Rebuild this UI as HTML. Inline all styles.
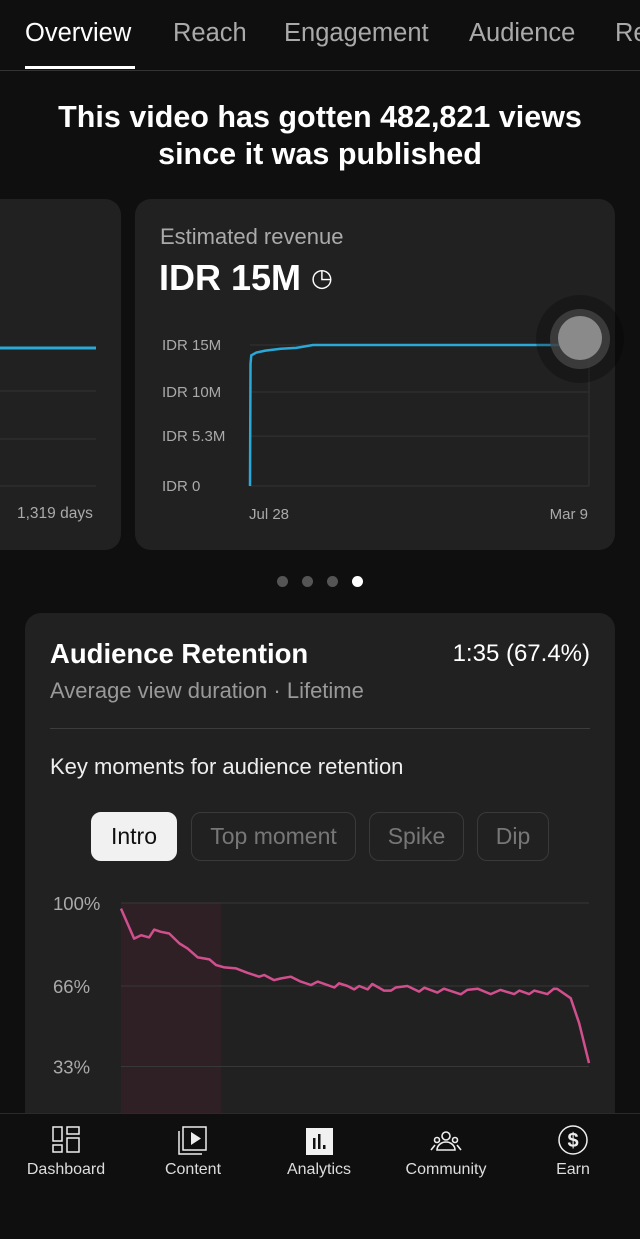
<!DOCTYPE html>
<html><head><meta charset="utf-8">
<style>
*{margin:0;padding:0;box-sizing:border-box}
body{width:640px;height:1239px;background:#0f0f0f;font-family:"Liberation Sans",sans-serif;color:#fff;position:relative;overflow:hidden}
.abs{position:absolute}
.tab{position:absolute;top:19px;font-size:25.5px;color:#aaa}
.card{position:absolute;background:#212121;border-radius:16px}
.lbl{font-size:15.5px;color:#aaa;position:absolute}
.chip{position:absolute;top:812px;height:49px;border-radius:10px;border:1px solid #3a3a3a;font-size:23px;color:#777;display:flex;align-items:center;justify-content:center}
.nav{position:absolute;top:1161px;font-size:16px;color:#ddd;text-align:center;width:120px}
</style></head><body>
<div class="tab" style="left:25px;color:#fff">Overview</div>
<div class="abs" style="left:25px;top:66px;width:110px;height:3px;background:#fff"></div>
<div class="tab" style="left:173px">Reach</div>
<div class="tab" style="left:284px">Engagement</div>
<div class="tab" style="left:469px">Audience</div>
<div class="tab" style="left:615px">Re</div>
<div class="abs" style="left:0;top:70px;width:640px;height:1px;background:#333"></div>
<div class="abs" style="left:0;top:99px;width:640px;text-align:center;font-size:30.5px;font-weight:bold;line-height:37px">This video has gotten 482,821 views<br>since it was published</div>

<div class="card" style="left:-30px;top:199px;width:151px;height:351px">
<svg class="abs" style="left:0;top:0" width="151" height="351">
<line x1="30" y1="192" x2="126" y2="192" stroke="#333"/>
<line x1="30" y1="240" x2="126" y2="240" stroke="#333"/>
<line x1="30" y1="287" x2="126" y2="287" stroke="#333"/>
<line x1="30" y1="149" x2="126" y2="149" stroke="#2aa8d8" stroke-width="3"/>
</svg>
<div class="lbl" style="left:47px;top:306px">1,319 days</div>
</div>

<div class="card" style="left:135px;top:199px;width:480px;height:351px">
<div class="abs" style="left:25px;top:25px;font-size:22px;color:#aaa">Estimated revenue</div>
<div class="abs" style="left:24px;top:58px;font-size:36px;font-weight:bold">IDR 15M <span style="font-size:25px;font-weight:normal;vertical-align:4px">◷</span></div>
</div>
<svg class="abs" style="left:0;top:0" width="640" height="560" id="rev"></svg>

<div class="abs" style="left:277px;top:576px;width:11px;height:11px;border-radius:50%;background:#555"></div>
<div class="abs" style="left:302px;top:576px;width:11px;height:11px;border-radius:50%;background:#555"></div>
<div class="abs" style="left:327px;top:576px;width:11px;height:11px;border-radius:50%;background:#555"></div>
<div class="abs" style="left:352px;top:576px;width:11px;height:11px;border-radius:50%;background:#fff"></div>

<div class="card" style="left:25px;top:613px;width:590px;height:560px">
<div class="abs" style="left:25px;top:25px;font-size:27.5px;font-weight:bold">Audience Retention</div>
<div class="abs" style="right:25px;top:27px;font-size:24px">1:35 (67.4%)</div>
<div class="abs" style="left:25px;top:65px;font-size:22px;color:#999">Average view duration · Lifetime</div>
<div class="abs" style="left:25px;top:115px;width:540px;height:1px;background:#3d3d3d"></div>
<div class="abs" style="left:25px;top:141px;font-size:22px;color:#eee">Key moments for audience retention</div>
</div>
<div class="chip" style="left:91px;width:86px;background:#f1f1f1;color:#0f0f0f;border-color:#f1f1f1">Intro</div>
<div class="chip" style="left:191px;width:165px">Top moment</div>
<div class="chip" style="left:369px;width:95px">Spike</div>
<div class="chip" style="left:477px;width:72px">Dip</div>
<svg class="abs" style="left:0;top:870px" width="640" height="243" id="ret"></svg>

<div class="abs" style="left:0;top:1113px;width:640px;height:126px;background:#0f0f0f;border-top:1px solid #2a2a2a"></div>
<svg class="abs" style="left:0;top:1113px" width="640" height="50">
<g fill="none" stroke="#eee" stroke-width="1.5">
<rect x="53" y="14" width="9" height="14"/><rect x="67" y="14" width="12" height="7"/><rect x="53" y="32" width="9" height="7"/><rect x="67" y="25" width="12" height="14"/>
<rect x="183" y="14" width="23" height="23"/><path d="M179 18 V41 H202"/>
<circle cx="573" cy="27" r="14"/>
</g>
<path d="M191 19 L201 25.5 L191 32 Z" fill="#eee"/>
<rect x="306" y="15" width="27" height="27" fill="#f1f1f1"/>
<rect x="313" y="25" width="2.5" height="11" fill="#111"/><rect x="318" y="21" width="2.5" height="15" fill="#111"/><rect x="323" y="32" width="2.5" height="4" fill="#111"/>
<g fill="none" stroke="#eee" stroke-width="1.6"><circle cx="446" cy="23" r="4"/><path d="M437 37 a9 8 0 0 1 18 0 Z"/><circle cx="437" cy="27" r="2.5"/><circle cx="455" cy="27" r="2.5"/><path d="M431 37 l4 -5 M461 37 l-4 -5"/></g>
<text x="573" y="34" text-anchor="middle" font-size="20" font-weight="bold" fill="#eee" font-family="Liberation Sans">$</text>
</svg>
<div class="nav" style="left:6px">Dashboard</div>
<div class="nav" style="left:133px">Content</div>
<div class="nav" style="left:259px">Analytics</div>
<div class="nav" style="left:386px">Community</div>
<div class="nav" style="left:513px">Earn</div>

<script>
const NS="http://www.w3.org/2000/svg";
const revDays=[0,2,5,25,60,120,180,245,1319];
const revValues=[0,13.0,13.9,14.2,14.4,14.6,14.7,15,15];
const revTicks=[0,5.3,10,15];
const revTickLabels=["IDR 0","IDR 5.3M","IDR 10M","IDR 15M"];
const revXLabels=["Jul 28","Mar 9"];
const retTime=[0,2.8,4.3,6,7.1,8.5,10.3,12.5,14.2,16.4,18.9,20.3,22.1,24.6,27,29.5,30.6,32.7,34.2,36.3,38.4,40.6,42,45.6,46.6,48.4,49.8,50.9,52.7,53.7,56.2,57.7,58.7,61.2,63.7,64.8,67.6,69,72.6,74,76.2,79,81.1,84,85.1,87.2,88.3,91.1,92.5,93.2,96.1,97.9,100];
const retValues=[97.7,85.4,86.8,85.9,89.1,88.2,87.5,83.4,81.4,77.7,76.9,74.6,73.6,73.2,71.4,69.8,70.5,68.4,69.1,69.8,67.8,66.4,67.8,65.4,67.1,66,64.6,66,64.6,66.8,64.1,64.1,65.4,66,63.7,65.3,63.3,64.9,62.6,64.4,64.9,62.7,64.4,62.7,64.1,62.7,64.1,62.7,64.9,64.8,61,50.7,34.4];
const retTicks=[33,66,100];
const retTickLabels=["33%","66%","100%"];
function mk(p,t,a){const e=document.createElementNS(NS,t);for(const k in a)e.setAttribute(k,a[k]);p.appendChild(e);return e;}
// revenue
const rev=document.getElementById('rev');
const rx=d=>250+d/1319*339, ry=v=>486-v/15*141;
revTicks.forEach((t,i)=>{
 const l=mk(rev,'line',{x1:250,x2:589,y1:ry(t),y2:ry(t),stroke:'#333'});
 
 
 const tx=mk(rev,'text',{x:162,y:ry(t)+5,fill:'#aaa','font-size':15});
 tx.textContent=revTickLabels[i];
 
 
});
mk(rev,'line',{x1:589,x2:589,y1:345,y2:486,stroke:'#333'});
let pd="";revDays.forEach((d,i)=>{pd+=(i?"L":"M")+rx(d)+" "+ry(revValues[i]);});
const rl=mk(rev,'path',{d:pd,fill:'none',stroke:'#2aa8d8','stroke-width':2.5});


[[rx(0),'start'],[rx(1319),'end']].forEach((o,i)=>{const t=mk(rev,'text',{x:o[0]-1,y:519,fill:'#aaa','font-size':15,'text-anchor':o[1]});t.textContent=revXLabels[i];
 
 });
const lx=rx(1319),ly=ry(revValues[revValues.length-1]);
mk(rev,'circle',{cx:lx-9,cy:ly-6,r:44,fill:'#000',opacity:0.25});
mk(rev,'circle',{cx:lx-9,cy:ly-6,r:30,fill:'#444',opacity:0.8});
const hd=mk(rev,'circle',{cx:lx-9,cy:ly-7,r:22,fill:'#8a8a8a'});


// retention
const ret=document.getElementById('ret');
const tx_=t=>121+t/100*468, ty_=v=>33+(100-v)/34*83;
const hl=mk(ret,'rect',{x:121,y:33,width:100,height:210,fill:'#2e2024'});


retTicks.forEach((t,i)=>{
 const l=mk(ret,'line',{x1:121,x2:589,y1:ty_(t),y2:ty_(t),stroke:'#383838'});
 
 
 const tx=mk(ret,'text',{x:53,y:ty_(t)+7,fill:'#aaa','font-size':18.5});
 tx.textContent=retTickLabels[i];
 
 
});
let pr="";retTime.forEach((t,i)=>{pr+=(i?"L":"M")+tx_(t).toFixed(1)+" "+ty_(retValues[i]).toFixed(1);});
const rl2=mk(ret,'path',{d:pr,fill:'none',stroke:'#d24f8e','stroke-width':2.5,'stroke-linejoin':'round'});


</script>
</body></html>
